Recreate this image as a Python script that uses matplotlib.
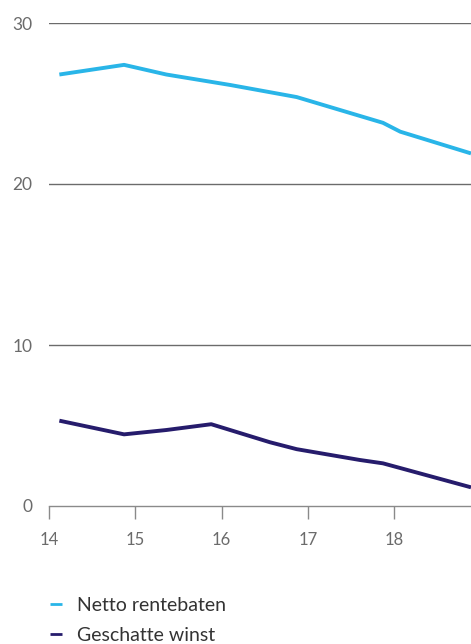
import matplotlib
matplotlib.use("Agg")
import matplotlib.pyplot as plt

# Data (x in decimal years, 14 = 2014)
netto_x = [14.12, 14.87, 15.36, 16.10, 16.87, 17.87, 18.07, 18.89]
netto_y = [26.8, 27.4, 26.8, 26.15, 25.4, 23.8, 23.25, 21.9]
winst_x = [14.12, 14.87, 15.36, 15.88, 16.56, 16.87, 17.60, 17.87, 18.89]
winst_y = [5.3, 4.45, 4.72, 5.08, 3.96, 3.53, 2.86, 2.65, 1.16]
x_ticks = [14, 15, 16, 17, 18]
x_labels = ["14", "15", "16", "17", "18"]
y_ticks = [0, 10, 20, 30]
y_labels = ["0", "10", "20", "30"]
series_names = ["Netto rentebaten", "Geschatte winst"]

plt.rcParams['font.family'] = ['Lato', 'DejaVu Sans']

fig = plt.figure(figsize=(4.71, 6.44), dpi=100)
ax = fig.add_axes([49/471, 1 - 506/644, 1 - 49/471, (506 - 23)/644])

for yv in y_ticks[1:]:
    ax.axhline(yv, color="#6b6b6b", lw=1.0, zorder=1)

l1, = ax.plot(netto_x, netto_y, color="#29b5e8", lw=2.8, solid_joinstyle="round",
              solid_capstyle="butt", zorder=3, label=series_names[0])
l2, = ax.plot(winst_x, winst_y, color="#261c6c", lw=2.8, solid_joinstyle="round",
              solid_capstyle="butt", zorder=3, label=series_names[1])

ax.set_xlim(14, 18.89)
ax.set_ylim(0, 30)
for s in ["top", "right", "left"]:
    ax.spines[s].set_visible(False)
ax.spines["bottom"].set_color("#8a8a8a")
ax.spines["bottom"].set_linewidth(1.0)
ax.spines["bottom"].set_zorder(2)

ax.set_xticks(x_ticks)
ax.set_xticklabels(x_labels)
ax.set_yticks(y_ticks)
ax.set_yticklabels(y_labels)
ax.tick_params(axis="x", direction="out", length=9, width=1.0, color="#8a8a8a",
               pad=10, labelsize=12, labelcolor="#6b6b6b")
ax.tick_params(axis="y", length=0, pad=12, labelsize=12.5, labelcolor="#6b6b6b")

fig.legend(handles=[l1, l2], labels=series_names, loc="upper left",
           bbox_to_anchor=(50/471, 1 - 597/644), frameon=False,
           fontsize=14, handlelength=0.62, handletextpad=0.77, labelspacing=0.66,
           borderaxespad=0, borderpad=0, labelcolor="#333333")
for h in fig.legends[0].legend_handles:
    h.set_linewidth(2.0)

fig.savefig("out.png", dpi=100)
